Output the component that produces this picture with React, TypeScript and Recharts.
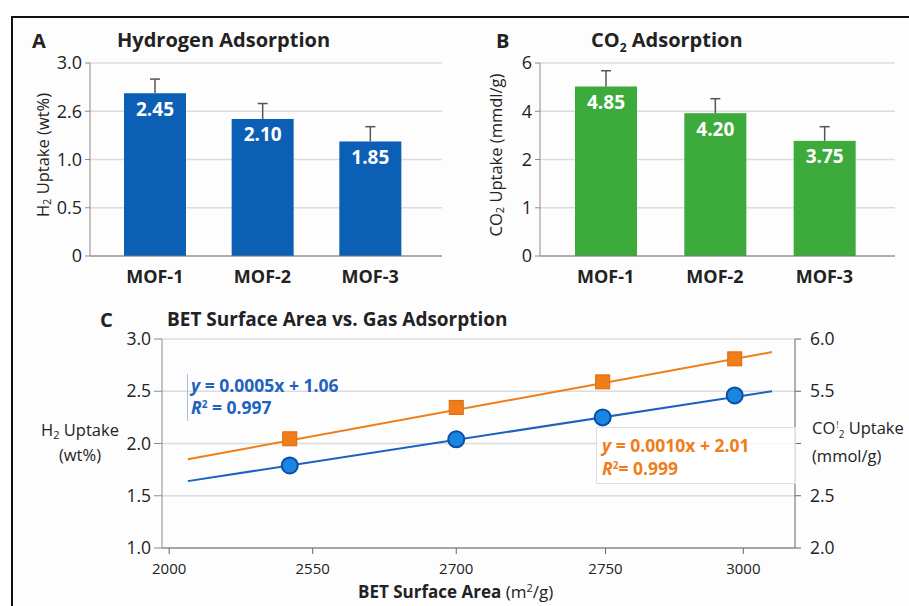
import React from "react";
import {
  BarChart,
  Bar,
  XAxis,
  YAxis,
  CartesianGrid,
  LabelList,
  Label,
  ComposedChart,
  Line,
  Scatter,
} from "recharts";

const FONT = "'Open Sans', 'Noto Sans', sans-serif";
const TEXT = "#222";
const AXIS = "#8c8c8c";
const GRID = "#dcdcdc";
const BLUE = "#0b5fb5";
const GREEN = "#3dab3b";
const ORANGE = "#ef7d1a";
const LINE_BLUE = "#1f5fbf";

const mofNames = ["MOF-1", "MOF-2", "MOF-3"];

// Panel A: bar tops read against the evenly spaced ticks
const h2Bar = [2.53, 2.13, 1.78];
const h2Err = [0.22, 0.24, 0.23];
const h2BarLabels = ["2.45", "2.10", "1.85"];
const h2AxisTicks = [0, 0.75, 1.5, 2.25, 3];
const h2AxisLabels = ["0", "0.5", "1.0", "2.6", "3.0"];

// Panel B
const co2Bar = [5.27, 4.44, 3.58];
const co2Err = [0.49, 0.45, 0.44];
const co2BarLabels = ["4.85", "4.20", "3.75"];
const co2AxisTicks = [0, 1.5, 3, 4.5, 6];
const co2AxisLabels = ["0", "1", "2", "4", "6"];

// Panel C: x positions are tick slots (labels are not evenly spaced values)
const betTicks = [0, 1, 2, 3.04, 4];
const betLabels = ["2000", "2550", "2700", "2750", "3000"];
const betPos = [0.84, 2.0, 3.02, 3.94];
const h2Uptake = [1.79, 2.04, 2.25, 2.46];
const co2Uptake = [4.09, 4.69, 5.18, 5.62];
const fitPos = [0.13, 4.2];
const h2Fit = [1.64, 2.5];
const co2Fit = [3.7, 5.75];
const leftTicks = [1, 1.5, 2, 2.5, 3];
const leftLabels = ["1.0", "1.5", "2.0", "2.5", "3.0"];
const rightTicks = [2, 3, 4, 5, 6];
const rightLabels = ["2.0", "2.5", "", "5.5", "6.0"];

const h2Data = mofNames.map((name, i) => ({
  name,
  value: h2Bar[i],
  err: h2Err[i],
  label: h2BarLabels[i],
}));
const co2Data = mofNames.map((name, i) => ({
  name,
  value: co2Bar[i],
  err: co2Err[i],
  label: co2BarLabels[i],
}));
const h2Points = betPos.map((x, i) => ({ x, y: h2Uptake[i] }));
const co2Points = betPos.map((x, i) => ({ x, y: co2Uptake[i] }));
const h2FitData = fitPos.map((x, i) => ({ x, y: h2Fit[i] }));
const co2FitData = fitPos.map((x, i) => ({ x, y: co2Fit[i] }));

function BarWithError(props: any) {
  const { x, y, width, height, fill, payload } = props;
  const pxPerUnit = height / payload.value;
  const top = y - payload.err * pxPerUnit;
  const cx = x + width / 2;
  return (
    <g>
      <rect x={x} y={y} width={width} height={height} fill={fill} />
      <line x1={cx} x2={cx} y1={y} y2={top} stroke="#555" strokeWidth={1.5} />
      <line x1={cx - 5} x2={cx + 5} y1={top} y2={top} stroke="#555" strokeWidth={1.5} />
    </g>
  );
}

function Circle(props: any) {
  return <circle cx={props.cx} cy={props.cy} r={8} fill="#1b86e0" stroke="#0b4ea6" strokeWidth={2} />;
}

function Square(props: any) {
  return (
    <rect x={props.cx - 7} y={props.cy - 7} width={14} height={14} fill={ORANGE} stroke="#dc6a0c" strokeWidth={1} />
  );
}

const pick = (ticks: number[], labels: string[]) => (v: number) => {
  const i = ticks.findIndex((t) => Math.abs(t - v) < 1e-6);
  return i >= 0 ? labels[i] : "";
};

function RotatedLabel({ x, y, gas, unit }: { x: number; y: number; gas: string; unit: string }) {
  return (
    <text
      transform={`translate(${x},${y}) rotate(-90)`}
      textAnchor="middle"
      dominantBaseline="central"
      fontSize={16.5}
      fill={TEXT}
      fontFamily={FONT}
    >
      {gas}
      <tspan fontSize={11} dy={4}>2</tspan>
      <tspan dy={-4}>{` Uptake ${unit}`}</tspan>
    </text>
  );
}

function BarPanel(props: {
  data: any[];
  width: number;
  margin: any;
  ticks: number[];
  tickLabels: string[];
  max: number;
  color: string;
  padding: { left: number; right: number };
  label: React.ReactNode;
}) {
  return (
    <BarChart width={props.width} height={300} data={props.data} margin={props.margin}>
      <CartesianGrid vertical={false} stroke={GRID} strokeWidth={1.5} />
      <XAxis
        dataKey="name"
        padding={props.padding}
        tickLine={false}
        tickSize={0}
        tickMargin={14}
        height={30}
        stroke="#777"
        tick={{ fill: TEXT, fontSize: 18, fontWeight: 700, fontFamily: FONT }}
      />
      <YAxis
        domain={[0, props.max]}
        ticks={props.ticks}
        tickFormatter={pick(props.ticks, props.tickLabels)}
        width={50}
        tickSize={5}
        tickMargin={3}
        stroke={AXIS}
        tick={{ fill: TEXT, fontSize: 18, fontFamily: FONT }}
      >
        <Label content={() => props.label} />
      </YAxis>
      <Bar dataKey="value" fill={props.color} barSize={62} shape={<BarWithError />} isAnimationActive={false}>
        <LabelList
          dataKey="label"
          position="insideTop"
          offset={9}
          fill="#fff"
          fontSize={19}
          fontWeight={700}
          fontFamily={FONT}
        />
      </Bar>
    </BarChart>
  );
}

const abs = (left: number, top: number, extra: React.CSSProperties = {}): React.CSSProperties => ({
  position: "absolute",
  left,
  top,
  fontFamily: FONT,
  color: TEXT,
  whiteSpace: "nowrap",
  lineHeight: 1,
  ...extra,
});

const small = (size: number, shift: string): React.CSSProperties => ({
  fontSize: size,
  verticalAlign: shift,
  lineHeight: 0,
});

export default function App() {
  return (
    <div
      style={{
        position: "fixed",
        left: 0,
        top: 0,
        width: 909,
        height: 606,
        overflow: "hidden",
        background: "#fff",
        fontFamily: FONT,
      }}
    >
      <div
        style={{
          position: "absolute",
          left: 11,
          top: 16,
          width: 920,
          height: 620,
          borderTop: "2px solid #111",
          borderLeft: "2px solid #111",
          background: "#fdfdfd",
        }}
      />

      <div style={{ position: "absolute", left: 0, top: 0 }}>
        <BarPanel
          data={h2Data}
          width={450}
          margin={{ top: 63, right: 8, left: 40, bottom: 14 }}
          ticks={h2AxisTicks}
          tickLabels={h2AxisLabels}
          max={3}
          color={BLUE}
          padding={{ left: 11, right: 18 }}
          label={<RotatedLabel x={42} y={155} gas="H" unit="(wt%)" />}
        />
      </div>
      <div style={{ position: "absolute", left: 450, top: 0 }}>
        <BarPanel
          data={co2Data}
          width={459}
          margin={{ top: 63, right: 14, left: 40, bottom: 14 }}
          ticks={co2AxisTicks}
          tickLabels={co2AxisLabels}
          max={6}
          color={GREEN}
          padding={{ left: 11, right: 16 }}
          label={<RotatedLabel x={45} y={155} gas="CO" unit="(mmdl/g)" />}
        />
      </div>

      <div style={{ position: "absolute", left: 0, top: 300 }}>
        <ComposedChart width={909} height={306} margin={{ top: 39, right: 54, left: 102, bottom: 28 }}>
          <CartesianGrid vertical={false} yAxisId="left" stroke={GRID} strokeWidth={1.5} />
          <XAxis
            type="number"
            dataKey="x"
            domain={[-0.05, 4.36]}
            ticks={betTicks}
            tickFormatter={pick(betTicks, betLabels)}
            allowDataOverflow
            height={30}
            tickSize={6}
            tickMargin={9}
            stroke="#666"
            tick={{ fill: TEXT, fontSize: 15, fontFamily: FONT }}
          />
          <YAxis
            yAxisId="left"
            domain={[1, 3]}
            ticks={leftTicks}
            tickFormatter={pick(leftTicks, leftLabels)}
            width={60}
            tickSize={8}
            tickMargin={3}
            stroke={AXIS}
            tick={{ fill: TEXT, fontSize: 17.5, fontFamily: FONT }}
          />
          <YAxis
            yAxisId="right"
            orientation="right"
            domain={[2, 6]}
            ticks={rightTicks}
            tickFormatter={pick(rightTicks, rightLabels)}
            width={60}
            tickSize={6}
            tickMargin={9}
            stroke="#666"
            tick={{ fill: TEXT, fontSize: 17.5, fontFamily: FONT }}
          />
          <Line
            data={h2FitData}
            dataKey="y"
            yAxisId="left"
            stroke={LINE_BLUE}
            strokeWidth={2}
            dot={false}
            isAnimationActive={false}
          />
          <Line
            data={co2FitData}
            dataKey="y"
            yAxisId="right"
            stroke={ORANGE}
            strokeWidth={2}
            dot={false}
            isAnimationActive={false}
          />
          <Scatter data={co2Points} dataKey="y" yAxisId="right" shape={<Square />} isAnimationActive={false} />
          <Scatter data={h2Points} dataKey="y" yAxisId="left" shape={<Circle />} isAnimationActive={false} />
        </ComposedChart>
      </div>

      {/* panel titles */}
      <div style={abs(32, 31, { fontSize: 20, fontWeight: 700 })}>A</div>
      <div style={abs(117, 30, { fontSize: 20, fontWeight: 700 })}>Hydrogen Adsorption</div>
      <div style={abs(496, 31, { fontSize: 20, fontWeight: 700 })}>B</div>
      <div style={abs(591, 30, { fontSize: 20, fontWeight: 700 })}>
        CO<sub style={small(12, "-5px")}>2</sub> Adsorption
      </div>
      <div style={abs(100, 310, { fontSize: 20, fontWeight: 700 })}>C</div>
      <div style={abs(167, 310, { fontSize: 19, fontWeight: 700 })}>BET Surface Area vs. Gas Adsorption</div>

      {/* panel C axis titles */}
      <div style={abs(30, 417, { width: 100, textAlign: "center", fontSize: 16.5, lineHeight: "25px" })}>
        H<sub style={small(11, "-3px")}>2</sub> Uptake
        <br />
        (wt%)
      </div>
      <div style={abs(812, 414, { fontSize: 16.5, lineHeight: "28px" })}>
        CO<sup style={{ ...small(9, "6px"), marginLeft: 1 }}>!</sup>
        <sub style={small(10, "-4px")}>2</sub> Uptake
        <br />
        (mmol/g)
      </div>
      <div style={abs(358, 583, { fontSize: 17 })}>
        <b>BET Surface Area</b> (m<sup style={small(11, "6px")}>2</sup>/g)
      </div>

      {/* fit equations */}
      <div
        style={abs(187, 374, {
          height: 47,
          borderLeft: "1px solid #9cc0e6",
          paddingLeft: 3,
          color: "#1f63c0",
          fontSize: 17.5,
          fontWeight: 700,
          lineHeight: "22px",
        })}
      >
        <i>y</i> = 0.0005x + 1.06
        <br />
        <i>R</i>
        <sup style={small(10, "6px")}>2</sup> = 0.997
      </div>
      <div
        style={abs(596, 427, {
          width: 193,
          height: 49,
          border: "1px solid #ddd",
          background: "rgba(255,255,255,0.7)",
          paddingLeft: 5,
          paddingTop: 6,
          color: ORANGE,
          fontSize: 17.5,
          fontWeight: 700,
          lineHeight: "23px",
        })}
      >
        <i>y</i> = 0.0010x + 2.01
        <br />
        <i>R</i>
        <sup style={small(10, "6px")}>2</sup>= 0.999
      </div>
    </div>
  );
}
